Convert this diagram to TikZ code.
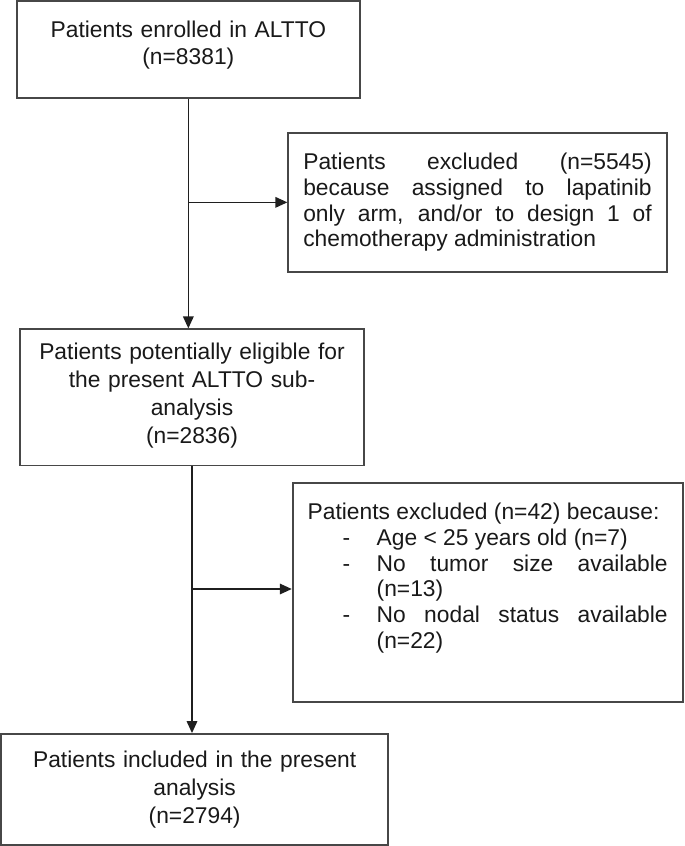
\documentclass[tikz,border=0pt]{standalone}
\usepackage{fontspec}
\setmainfont{Liberation Sans}
\usetikzlibrary{arrows.meta}
\begin{document}
\begin{tikzpicture}[x=1pt,y=-1pt,
  box/.style={draw=black!72, line width=1.8pt, text=black!90, inner xsep=15pt, inner ysep=0pt,
    font=\fontsize{22.8pt}{27.8pt}\selectfont,
    execute at begin node={\hyphenpenalty=10000\exhyphenpenalty=10000}},
  cbox/.style={box, align=center},
  jbox/.style={box, align=justify, font=\fontsize{22.8pt}{25.7pt}\selectfont},
  link/.style={draw=black!88, line width=1.7pt},
  arr/.style={link, -{Triangle[length=12pt,width=10.5pt]}}
]
\useasboundingbox (0,0) rectangle (685,846);

\node[cbox, minimum width=343.3pt, minimum height=97.3pt, text width=313.3pt]
  (enrol) at (188.35,49.65) {Patients enrolled in ALTTO\\(n=8381)\par\kern9.3pt};

\node[jbox, minimum width=378.4pt, minimum height=139.3pt, text width=348.4pt]
  (excl1) at (477.5,202.35) {Patients excluded (n=5545)\linebreak because assigned to lapatinib\linebreak only arm, and/or to design 1 of\linebreak chemotherapy administration};

\node[cbox, minimum width=344pt, minimum height=136.2pt, text width=314pt]
  (elig) at (192,397.4) {Patients potentially eligible for\\the present ALTTO sub-\\analysis\\(n=2836)\par\kern3.6pt};

\node[jbox, minimum width=390pt, minimum height=218.4pt, text width=360pt]
  (excl2) at (487.7,592.5) {Patients excluded (n=42) because:\par
  \hangindent=69pt\hangafter=1\noindent\makebox[69pt][l]{\hspace{35pt}-}Age < 25 years old (n=7)\par
  \hangindent=69pt\hangafter=1\noindent\makebox[69pt][l]{\hspace{35pt}-}No tumor size available\linebreak (n=13)\par
  \hangindent=69pt\hangafter=1\noindent\makebox[69pt][l]{\hspace{35pt}-}No nodal status available\linebreak (n=22)\par\kern29pt};

\node[cbox, minimum width=387.3pt, minimum height=111pt, text width=357.3pt]
  (incl) at (194.65,789.5) {Patients included in the present\\analysis\\(n=2794)};

\coordinate (j1) at (enrol.south |- excl1.west);
\coordinate (j2) at ([yshift=3.5pt]elig.south |- excl2.west);

\draw[arr] (enrol.south) -- (enrol.south |- elig.north);
\draw[arr] (j1) -- (j1 -| excl1.west);
\draw[arr] (elig.south) -- (elig.south |- incl.north);
\draw[arr] (j2) -- (j2 -| excl2.west);
\end{tikzpicture}
\end{document}
